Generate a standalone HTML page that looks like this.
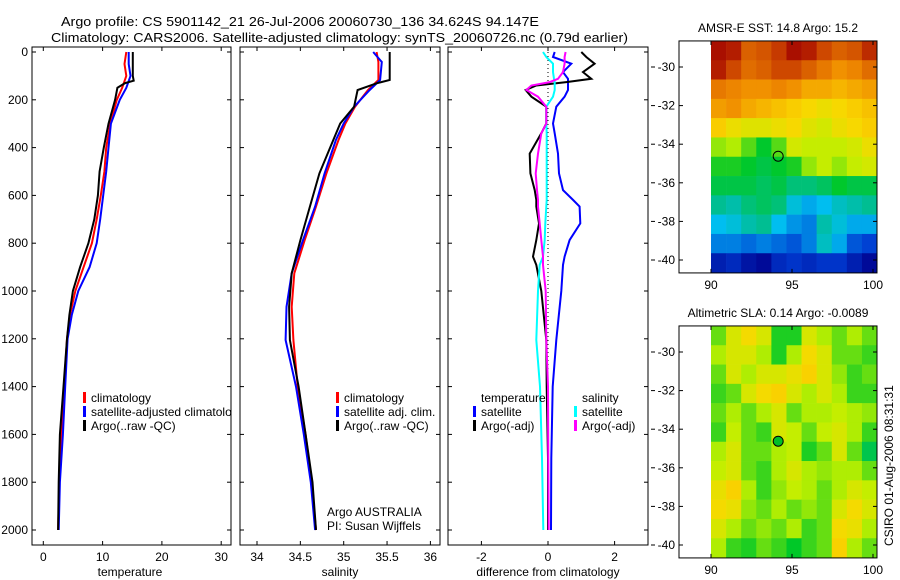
<!DOCTYPE html>
<html><head><meta charset="utf-8"><title>Argo profile</title>
<style>
body{margin:0;background:#fff;}
svg{display:block;font-family:"Liberation Sans",sans-serif;}
</style></head>
<body>
<svg id="chart" width="900" height="580" viewBox="0 0 900 580" xmlns="http://www.w3.org/2000/svg">
<defs><clipPath id="clip1"><rect x="32" y="47" width="199" height="498"/></clipPath></defs>
<rect x="0" y="0" width="900" height="580" fill="#fff"/>
<text x="61" y="26" font-size="13" textLength="478" lengthAdjust="spacingAndGlyphs">Argo profile: CS 5901142_21 26-Jul-2006 20060730_136 34.624S 94.147E</text>
<text x="51" y="42" font-size="13" textLength="577" lengthAdjust="spacingAndGlyphs">Climatology: CARS2006. Satellite-adjusted climatology: synTS_20060726.nc (0.79d earlier)</text>
<text transform="translate(893,546) rotate(-90)" font-size="12">CSIRO 01-Aug-2006 08:31:31</text>
<g id="g"></g>
</svg>
<script>
// ---------- data ----------
const depthTicks=[0,200,400,600,800,1000,1200,1400,1600,1800,2000];
const tempTicks=[0,10,20,30];
const salTicks=[34,34.5,35,35.5,36];
const diffTicks=[-2,0,2];
// temperature profiles
const tDepth=[0,50,100,150,200,300,400,500,600,700,800,900,1000,1100,1200,1400,1600,1800,2000];
const tClim=[14.0,13.7,14.0,13.3,12.4,11.3,10.6,10.3,9.7,9.0,8.2,6.8,5.4,4.5,4.0,3.5,3.0,2.7,2.5];
const tSat=[14.4,14.4,14.7,14.0,12.9,11.4,11.0,10.6,10.1,9.6,9.0,7.8,5.9,4.8,4.1,3.7,3.3,2.8,2.6];
const aDepth=[0,50,100,120,130,150,200,300,400,500,600,700,800,900,1000,1100,1200,1400,1600,1800,2000];
const tArgo=[15.1,15.1,15.1,15.25,13.8,12.5,12.1,11.0,10.2,9.5,9.2,8.6,7.6,6.2,5.0,4.4,4.0,3.4,2.8,2.6,2.5];
// salinity profiles
const sDepth=[0,42,117,159,229,299,368,508,647,787,926,1066,1205,1400,1600,1800,2000];
const sClim=[35.38,35.40,35.40,35.28,35.13,35.02,34.94,34.80,34.68,34.55,34.43,34.40,34.42,34.47,34.56,34.63,34.68];
const sSat=[35.34,35.44,35.42,35.30,35.12,35.00,34.91,34.78,34.67,34.53,34.40,34.34,34.33,34.45,34.54,34.62,34.67];
const sArgoDepth=[0,117,131,159,229,299,368,508,647,787,926,1066,1205,1400,1600,1800,2000];
const sArgo=[35.53,35.53,35.38,35.16,35.12,34.96,34.88,34.72,34.61,34.50,34.40,34.37,34.38,34.48,34.56,34.64,34.68];
// differences
const dDepth=[0,21,49,84,112,126,140,159,187,229,299,340,425,508,578,619,647,717,787,856,891,1000,1205,1400,1700,2000];
const dTempArgo=[1.0,1.15,1.4,1.05,1.3,0.55,-0.35,-0.67,-0.5,-0.05,-0.05,-0.2,-0.55,-0.53,-0.4,-0.35,-0.35,-0.27,-0.35,-0.45,-0.35,-0.2,-0.05,-0.04,0.0,0.0];
const dTempSat=[0.2,0.15,0.7,0.45,0.6,0.6,0.6,0.6,0.5,0.25,0.15,0.2,0.3,0.33,0.45,0.75,0.95,0.97,0.65,0.5,0.45,0.4,0.25,0.14,0.1,0.09];
const dSalArgo=[0.53,0.5,0.5,0.45,0.3,0.05,-0.5,-0.65,-0.3,-0.05,-0.05,-0.2,-0.3,-0.37,-0.33,-0.3,-0.3,-0.25,-0.2,-0.15,-0.15,-0.07,-0.05,0.0,0.01,0.02];
const dSalSat=[-0.15,-0.05,0.15,0.15,0.18,0.2,0.2,0.2,0.15,-0.05,-0.05,-0.04,-0.04,-0.04,-0.04,-0.04,-0.05,-0.08,-0.1,-0.15,-0.25,-0.3,-0.35,-0.24,-0.18,-0.14];
// maps (rows from north -28.65 southward, 1 deg each; cols 90..100)
const lonTicks=[90,95,100];
const latTicks=[-30,-32,-34,-36,-38,-40];
const sstGrid=[
[17,16.9,16.4,16.5,16.7,17,16.9,16.6,16.4,16.5,16.8],
[16.9,16.6,16.3,16.4,16.6,16.6,16.4,16.2,16.0,16.1,16.3],
[16.2,16.1,16.0,16.0,16.1,16.0,15.8,15.8,15.7,15.8,15.9],
[15.9,16.0,15.8,15.7,15.6,15.5,15.4,15.3,15.4,15.5,15.6],
[15.5,15.3,15.2,15.2,15.3,15.4,15.2,15.1,15.3,15.4,15.5],
[14.8,14.9,14.6,14.3,14.6,15.1,15.0,15.0,15.0,15.1,15.3],
[14.4,14.4,14.3,14.2,14.3,14.4,14.8,15.0,14.8,15.0,15.1],
[14.2,14.2,14.2,14.1,14.2,14.0,14.0,14.1,14.3,14.2,14.2],
[13.9,13.8,14.0,14.1,14.0,13.6,13.4,13.5,13.7,13.8,13.9],
[13.5,13.6,13.8,13.9,13.5,13.3,13.2,13.8,13.6,13.4,13.4],
[13.2,13.2,13.1,13.2,13.1,13.0,13.2,13.7,13.4,13.0,12.9],
[12.6,12.7,12.5,12.4,12.7,12.8,12.7,12.8,12.8,12.6,12.4]];
const slaGrid=[
[0.45,0.55,0.6,0.55,0.4,0.4,0.55,0.5,0.45,0.5,0.45],
[0.5,0.55,0.55,0.5,0.4,0.5,0.6,0.55,0.45,0.45,0.42],
[0.45,0.55,0.5,0.55,0.55,0.58,0.62,0.55,0.48,0.42,0.45],
[0.42,0.45,0.55,0.6,0.62,0.55,0.5,0.55,0.5,0.42,0.42],
[0.45,0.5,0.45,0.5,0.55,0.45,0.5,0.5,0.52,0.5,0.48],
[0.42,0.52,0.45,0.42,0.55,0.52,0.45,0.52,0.55,0.5,0.42],
[0.5,0.55,0.45,0.45,0.5,0.52,0.4,0.45,0.55,0.45,0.35],
[0.52,0.55,0.45,0.42,0.5,0.55,0.5,0.48,0.5,0.5,0.45],
[0.58,0.62,0.5,0.42,0.48,0.52,0.5,0.45,0.5,0.55,0.52],
[0.6,0.58,0.48,0.45,0.5,0.45,0.48,0.45,0.55,0.6,0.55],
[0.55,0.5,0.45,0.48,0.45,0.5,0.42,0.45,0.6,0.58,0.5],
[0.5,0.42,0.4,0.45,0.42,0.38,0.42,0.45,0.62,0.5,0.45]];
const argoLon=94.147, argoLat=-34.624;

// ---------- helpers ----------
const NS="http://www.w3.org/2000/svg";
const G=document.getElementById('g');
function el(t,a,p){const e=document.createElementNS(NS,t);for(const k in a)e.setAttribute(k,a[k]);(p||G).appendChild(e);return e;}
const yD=d=>52+d*0.239;
const panels=[
 {name:'temperature',x0:32,x1:231,sx:v=>43.3+v*5.93,ticks:tempTicks,label:'temperature',lx:130},
 {name:'salinity',x0:240,x1:440,sx:v=>257+(v-34)*86.7,ticks:salTicks,label:'salinity',lx:340},
 {name:'difference',x0:448,x1:648,sx:v=>548+v*33.3,ticks:diffTicks,label:'difference from climatology',lx:548}];
const PT=52,PB=545;
panels.forEach((p,i)=>{
 const f=el('rect',{x:p.x0,y:PT-5,width:p.x1-p.x0,height:PB-PT+5,fill:'none',stroke:'#000','stroke-width':1});
 
 
 depthTicks.forEach(d=>{
  el('line',{x1:p.x0,x2:p.x0+4,y1:yD(d),y2:yD(d),stroke:'#000'});
  el('line',{x1:p.x1,x2:p.x1-4,y1:yD(d),y2:yD(d),stroke:'#000'});
  if(i===0){const t=el('text',{x:28,y:yD(d)+4,'font-size':12,'text-anchor':'end'});t.textContent=d;
   
   }
 });
 p.ticks.forEach(v=>{
  const x=p.sx(v);
  el('line',{x1:x,x2:x,y1:PB,y2:PB-4,stroke:'#000'});
  el('line',{x1:x,x2:x,y1:PT-5,y2:PT-1,stroke:'#000'});
  const t=el('text',{x:x,y:561,'font-size':12,'text-anchor':'middle'});t.textContent=v;
  
  
 });
 const t=el('text',{x:p.lx,y:576,'font-size':12,'text-anchor':'middle'});t.textContent=p.label;
 
 
});
function line(xs,ds,sx,col,name,w){
 const pts=xs.map((v,i)=>sx(v).toFixed(1)+','+yD(ds[i]).toFixed(1)).join(' ');
 const e=el('polyline',{points:pts,fill:'none',stroke:col,'stroke-width':w||2,'stroke-linejoin':'miter'});
 
 
}
// zero line
el('line',{x1:548,x2:548,y1:yD(0),y2:yD(2000),stroke:'#000','stroke-dasharray':'1,3'});
line(tClim,tDepth,panels[0].sx,'#f00','temp-climatology-line');
line(tSat,tDepth,panels[0].sx,'#00f','temp-satellite-line');
line(tArgo,aDepth,panels[0].sx,'#000','temp-argo-line');
line(sClim,sDepth,panels[1].sx,'#f00','sal-climatology-line');
line(sSat,sDepth,panels[1].sx,'#00f','sal-satellite-line');
line(sArgo,sArgoDepth,panels[1].sx,'#000','sal-argo-line');
line(dTempSat,dDepth,panels[2].sx,'#00f','diff-temp-satellite-line');
line(dTempArgo,dDepth,panels[2].sx,'#000','diff-temp-argo-line');
line(dSalSat,dDepth,panels[2].sx,'#0ff','diff-sal-satellite-line');
line(dSalArgo,dDepth,panels[2].sx,'#f0f','diff-sal-argo-line');
// legends
function leg(x,y,col,txt,clip){
 if(col){const m=el('rect',{x:x-8,y:y-10,width:3,height:11,fill:col});
  
  }
 const t=el('text',{x:x,y:y,'font-size':12});t.textContent=txt;
 if(clip)t.setAttribute('clip-path','url(#clip1)');
 
 
}
leg(91,402,'#f00','climatology',1);leg(91,416,'#00f','satellite-adjusted climatology',1);leg(91,430,'#000','Argo(..raw -QC)',1);
leg(344,402,'#f00','climatology');leg(344,416,'#00f','satellite adj. clim.');leg(344,430,'#000','Argo(..raw -QC)');
leg(481,402,null,'temperature');leg(481,416,'#00f','satellite');leg(481,430,'#000','Argo(-adj)');
leg(582,402,null,'salinity');leg(582,416,'#0ff','satellite');leg(582,430,'#f0f','Argo(-adj)');
leg(327,516,null,'Argo AUSTRALIA');leg(327,530,null,'PI: Susan Wijffels');
// ---------- maps ----------
const stops=[[0,[0,0,140]],[0.12,[0,60,210]],[0.25,[0,190,240]],[0.33,[0,190,150]],[0.42,[0,200,40]],[0.55,[190,240,0]],[0.65,[250,215,0]],[0.78,[240,140,0]],[0.9,[205,70,0]],[1,[160,0,0]]];
function cmap(t){t=Math.max(0,Math.min(1,t));for(let i=1;i<stops.length;i++){if(t<=stops[i][0]){const a=stops[i-1],b=stops[i],f=(t-a[0])/(b[0]-a[0]);return 'rgb('+a[1].map((c,k)=>Math.round(c+(b[1][k]-c)*f)).join(',')+')';}}return 'rgb(160,0,0)';}
function map(top,grid,norm,title,name){
 const lx=v=>711+(v-90)*16.2, ly=v=>top+42+(-30-v)*19.3;
 const nc=grid[0].length,cw=(lx(100.25)-lx(90))/nc;
 grid.forEach((row,r)=>row.forEach((v,c)=>{
  const e=el('rect',{x:(lx(90)+c*cw).toFixed(2),y:(ly(-28.65-r)).toFixed(2),width:(cw+0.3).toFixed(2),height:19.6,fill:cmap(norm(v))});
  
  
 }));
 const f=el('rect',{x:679,y:ly(-28.65),width:198,height:ly(-40.67)-ly(-28.65),fill:'none',stroke:'#000'});
 
 
 lonTicks.forEach(v=>{el('line',{x1:lx(v),x2:lx(v),y1:ly(-28.65),y2:ly(-28.65)+4,stroke:'#000'});
  el('line',{x1:lx(v),x2:lx(v),y1:ly(-40.67),y2:ly(-40.67)-4,stroke:'#000'});
  const t=el('text',{x:lx(v),y:ly(-40.67)+16,'font-size':12,'text-anchor':'middle'});t.textContent=v;
  
  });
 latTicks.forEach(v=>{el('line',{x1:679,x2:683,y1:ly(v),y2:ly(v),stroke:'#000'});
  el('line',{x1:877,x2:873,y1:ly(v),y2:ly(v),stroke:'#000'});
  el('line',{x1:651,x2:655,y1:ly(v),y2:ly(v),stroke:'#000'});
  const t=el('text',{x:675,y:ly(v)+4,'font-size':12,'text-anchor':'end'});t.textContent=v;
  
  });
 const t=el('text',{x:778,y:top+7,'font-size':12,'text-anchor':'middle'});t.textContent=title;
 
 
 return {lx,ly};
}
const m1=map(25,sstGrid,v=>(v-12.3)/(17.1-12.3),'AMSR-E SST: 14.8 Argo: 15.2','sst-map');
const c1=el('circle',{cx:m1.lx(argoLon),cy:m1.ly(argoLat),r:5,fill:'none',stroke:'#000'});


const m2=map(310,slaGrid,v=>v+0.04,'Altimetric SLA: 0.14 Argo: -0.0089','sla-map');
const c2=el('circle',{cx:m2.lx(argoLon),cy:m2.ly(argoLat),r:5,fill:'rgb(0,190,40)',stroke:'#000'});


</script>
</body></html>
